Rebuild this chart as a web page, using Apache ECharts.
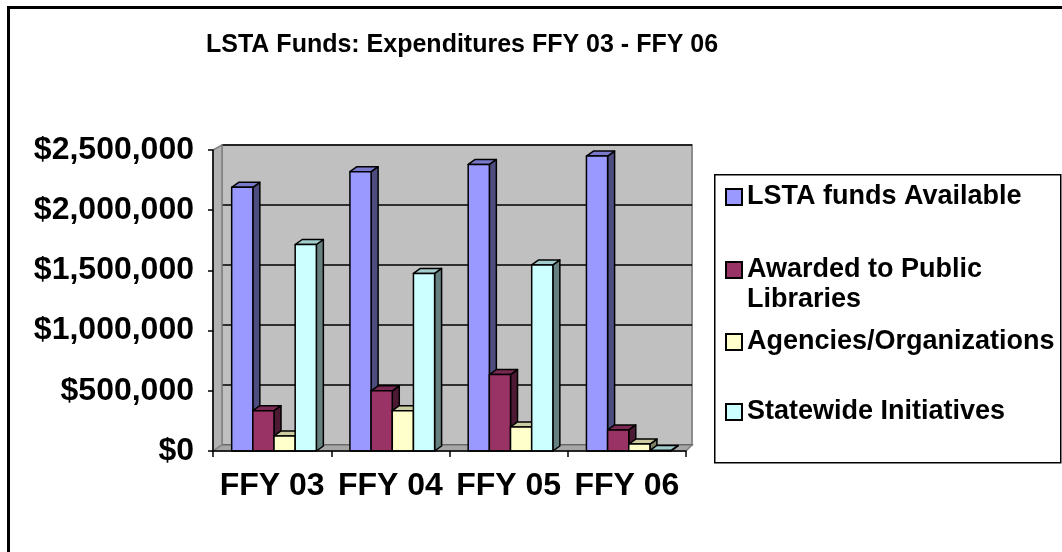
<!DOCTYPE html>
<html>
<head>
<meta charset="utf-8">
<script src="https://cdn.jsdelivr.net/npm/echarts@6/dist/echarts.min.js"></script>
<style>
  html, body { margin: 0; padding: 0; background: #fff; }
  #chart { width: 1062px; height: 552px; }
</style>
</head>
<body>
<div id="chart"></div>
<script>
// data
const years = ["FFY 03", "FFY 04", "FFY 05", "FFY 06"];
const available = [2190000, 2320000, 2380000, 2450000];
const publicLibraries = [335000, 500000, 635000, 175000];
const agencies = [125000, 335000, 200000, 58000];
const statewide = [1715000, 1475000, 1545000, 5000];

const seriesNames = ["LSTA funds Available", "Awarded to Public Libraries", "Agencies/Organizations", "Statewide Initiatives"];

// layout
const FONT = "'Liberation Sans', Arial, sans-serif";
const FRONT = { left: 213, right: 686, top: 150, bottom: 451 };
const BACK = { left: 222, right: 692, top: 145, bottom: 445 };
const BAR_DX = 7, BAR_DY = -5;

// face colours: front, side, top
const faces = [
    ["#9999ff", "#4d4d80", "#7a7acc"],
    ["#993366", "#4d1a33", "#7a2952"],
    ["#ffffcc", "#808066", "#ccccA3"],
    ["#ccffff", "#668080", "#a3cccc"]
];

function toPairs(arr) {
    return arr.map((v, i) => [i, v]);
}

function barRenderer(s) {
    return function (params, api) {
        let cat = api.value(0);
        let val = api.value(1);
        let base = api.coord([cat, 0]);
        let top = api.coord([cat, val]);
        let bw = api.size([1, 0])[0];
        let w = bw * 0.179;
        let x0 = base[0] - bw * 0.342 + s * w;
        let y0 = top[1], y1 = base[1];
        let line = { stroke: "#000", lineWidth: 1.5, lineJoin: "round" };
        return {
            type: "group",
            children: [
                {
                    type: "polygon",
                    shape: { points: [[x0 + w, y0], [x0 + w + BAR_DX, y0 + BAR_DY], [x0 + w + BAR_DX, y1 + BAR_DY], [x0 + w, y1]] },
                    style: Object.assign({ fill: faces[s][1] }, line)
                },
                {
                    type: "polygon",
                    shape: { points: [[x0, y0], [x0 + BAR_DX, y0 + BAR_DY], [x0 + w + BAR_DX, y0 + BAR_DY], [x0 + w, y0]] },
                    style: Object.assign({ fill: faces[s][2] }, line)
                },
                {
                    type: "rect",
                    shape: { x: x0, y: y0, width: w, height: y1 - y0 },
                    style: Object.assign({ fill: faces[s][0] }, line)
                }
            ]
        };
    };
}

// floor and left side wall
function wallRenderer(params, api) {
    let line = { stroke: "#808080", lineWidth: 1.5 };
    return {
        type: "group",
        children: [
            {
                type: "polygon",
                shape: { points: [[FRONT.left, FRONT.top], [BACK.left, BACK.top], [BACK.left, BACK.bottom], [FRONT.left, FRONT.bottom]] },
                style: Object.assign({ fill: "#b2b2b2" }, line)
            },
            {
                type: "polygon",
                shape: { points: [[FRONT.left, FRONT.bottom], [BACK.left, BACK.bottom], [BACK.right, BACK.bottom], [FRONT.right, FRONT.bottom]] },
                style: Object.assign({ fill: "#a6a6a6" }, line)
            }
        ]
    };
}

const allValues = [available, publicLibraries, agencies, statewide];

const chart = echarts.init(document.getElementById("chart"));

let series = [
    {
        type: "custom",
        name: "_wall",
        xAxisIndex: 0,
        yAxisIndex: 0,
        renderItem: wallRenderer,
        data: [[0, 0]],
        silent: true,
        z: 1
    }
];
allValues.forEach((vals, s) => {
    series.push({
        type: "custom",
        name: seriesNames[s],
        xAxisIndex: 0,
        yAxisIndex: 0,
        renderItem: barRenderer(s),
        encode: { x: 0, y: 1 },
        itemStyle: { color: faces[s][0], borderColor: "#000", borderWidth: 1.5 },
        data: toPairs(vals),
        z: 2
    });
});

function legendFor(i, top, extra) {
    return Object.assign({
        data: [seriesNames[i]],
        orient: "vertical",
        left: 725,
        top: top,
        padding: 0,
        icon: "rect",
        itemWidth: 16,
        itemHeight: 16,
        selectedMode: false,
        textStyle: { fontFamily: FONT, fontWeight: "bold", fontSize: 27, color: "#000", lineHeight: 30 }
    }, extra || {});
}

const option = {
    animation: false,
    backgroundColor: "#fff",
    title: {
        text: "LSTA Funds: Expenditures FFY 03 - FFY 06",
        left: 206,
        top: 33,
        padding: 0,
        textStyle: { fontFamily: FONT, fontWeight: "bold", fontSize: 25, color: "#000" }
    },
    legend: [
        legendFor(0, 182),
        // empty first line keeps the marker level with "Awarded to Public"
        legendFor(1, 225, { formatter: () => "\nAwarded to Public\nLibraries" }),
        legendFor(2, 327),
        legendFor(3, 397)
    ],
    grid: [
        {
            left: FRONT.left, right: 1062 - FRONT.right,
            top: FRONT.top, bottom: 552 - FRONT.bottom
        },
        {
            show: true,
            left: BACK.left, right: 1062 - BACK.right,
            top: BACK.top, bottom: 552 - BACK.bottom,
            backgroundColor: "#c0c0c0",
            borderColor: "#8c8c8c",
            borderWidth: 2,
            z: 0
        }
    ],
    xAxis: [
        {
            type: "category",
            gridIndex: 0,
            data: years,
            boundaryGap: true,
            axisLine: { lineStyle: { color: "#000", width: 1.5 } },
            axisTick: { show: true, length: 6, lineStyle: { color: "#000", width: 1.5 } },
            axisLabel: { interval: 0, margin: 19, fontFamily: FONT, fontWeight: "bold", fontSize: 32, color: "#000" },
            z: 3
        },
        {
            type: "category",
            gridIndex: 1,
            data: years,
            show: false
        }
    ],
    yAxis: [
        {
            type: "value",
            gridIndex: 0,
            min: 0,
            max: 2500000,
            interval: 500000,
            splitLine: { show: false },
            axisLine: { show: true, lineStyle: { color: "#000", width: 1.5 } },
            axisTick: { show: true, length: 5, lineStyle: { color: "#000", width: 1.5 } },
            axisLabel: {
                margin: 19,
                fontFamily: FONT, fontWeight: "bold", fontSize: 32, color: "#000",
                formatter: v => "$" + v.toLocaleString("en-US")
            },
            z: 3
        },
        {
            type: "value",
            gridIndex: 1,
            min: 0,
            max: 2500000,
            interval: 500000,
            axisLine: { show: false },
            axisTick: { show: false },
            axisLabel: { show: false },
            splitLine: { show: true, lineStyle: { color: "#000", width: 1.5 } },
            z: 0
        }
    ],
    graphic: [
        {
            type: "rect",
            left: 6, top: 5,
            shape: { width: 1100, height: 600 },
            style: { fill: null, stroke: "#000", lineWidth: 3 },
            silent: true
        },
        {
            type: "rect",
            left: 714, top: 174,
            shape: { width: 346, height: 288 },
            style: { fill: "#fff", stroke: "#000", lineWidth: 1.5 },
            silent: true,
            z: -1
        }
    ],
    series: series
};

chart.setOption(option);
</script>
</body>
</html>
